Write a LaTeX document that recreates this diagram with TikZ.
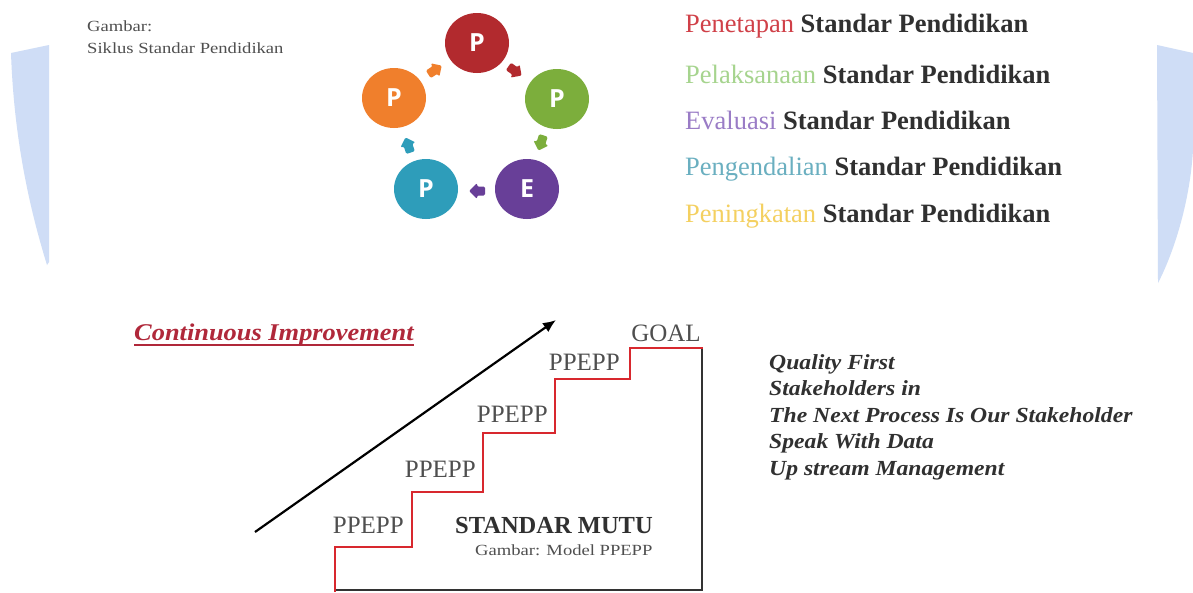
\documentclass[tikz,border=0pt]{standalone}
\usepackage{fontspec}
\setmainfont{Liberation Serif}
\newfontfamily\widefont[FakeStretch=1.2]{Liberation Serif}
\newfontfamily\bifont[FakeStretch=1.1]{Liberation Serif}
\newfontfamily\circfont{Open Sans}
\usetikzlibrary{shapes.geometric,arrows.meta}
\definecolor{bandblue}{HTML}{CFDDF6}
\definecolor{cred}{HTML}{B22A2E}
\definecolor{cgreen}{HTML}{7CAE3C}
\definecolor{cpurple}{HTML}{683F98}
\definecolor{cteal}{HTML}{2E9DBA}
\definecolor{corange}{HTML}{F07F2C}
\definecolor{lred}{HTML}{D04048}
\definecolor{lgreen}{HTML}{A6D48E}
\definecolor{lpurple}{HTML}{9A7CC6}
\definecolor{lteal}{HTML}{6AAFC0}
\definecolor{lyellow}{HTML}{F4D060}
\definecolor{txt}{HTML}{303030}
\definecolor{ured}{HTML}{B0283A}
\definecolor{stairred}{HTML}{D8282E}
\tikzset{
  pcirc/.style={ellipse, fill=#1, minimum width=64pt, minimum height=60pt, inner sep=0pt,
    text=white, font=\circfont\bfseries\fontsize{25}{25}\selectfont},
  blockarrow/.style={fill=#1, rounded corners=1.3pt},
  legend/.style={anchor=base west, text=txt, font=\fontsize{26.5}{30}\selectfont, inner sep=0pt},
  step label/.style={anchor=base east, text=txt!85, font=\fontsize{25}{30}\selectfont, inner sep=0pt},
  quality/.style={anchor=base west, text=txt, font=\bifont\bfseries\itshape\fontsize{21.5}{26}\selectfont, inner sep=0pt},
  small note/.style={anchor=base west, text=txt!85, font=\widefont\fontsize{15.5}{18}\selectfont, inner sep=0pt}
}
\newcommand{\arrowblob}{(-8,-4.5) -- (0,-4.5) -- (0,-8) -- (8,0) -- (0,8) -- (0,4.5) -- (-8,4.5) -- cycle}
\begin{document}
\begin{tikzpicture}[x=1pt,y=-1pt]
\useasboundingbox (0,0) rectangle (1193,592);
\fill[white] (0,0) rectangle (1193,592);

% side bands
\fill[bandblue] (11,53) -- (49,45) -- (49,262) -- (47,265)
  .. controls (30,210) and (14,140) .. cycle;
\fill[bandblue] (1157,45) -- (1193,53) -- (1193,150)
  .. controls (1190,200) and (1175,250) .. (1158,283) -- cycle;

% caption
\node[small note] (cap1) at (87,31) {Gambar:};
\node[small note] (cap2) at (87,53) {Siklus Standar Pendidikan};

% cycle circles
\node[pcirc=cred]    (c1) at (477,43)  {P};
\node[pcirc=cgreen]  (c2) at (557,99)  {P};
\node[pcirc=cpurple] (c3) at (527,189) {E};
\node[pcirc=cteal]   (c4) at (426,189) {P};
\node[pcirc=corange] (c5) at (394,98)  {P};
\fill[blockarrow=corange, shift={(435,70)}, rotate=33] \arrowblob;
\fill[blockarrow=cred, shift={(515,71)}, rotate=-35] \arrowblob;
\fill[blockarrow=cgreen, shift={(541,143)}, rotate=-108] \arrowblob;
\fill[blockarrow=cpurple, shift={(477,191)}, rotate=180] \arrowblob;
\fill[blockarrow=cteal, shift={(408,145)}, rotate=109] \arrowblob;

% legend
\node[legend] (l1) at (685,32)  {\textcolor{lred}{Penetapan} \textbf{Standar Pendidikan}};
\node[legend] (l2) at (685,83)  {\textcolor{lgreen}{Pelaksanaan} \textbf{Standar Pendidikan}};
\node[legend] (l3) at (685,129) {\textcolor{lpurple}{Evaluasi} \textbf{Standar Pendidikan}};
\node[legend] (l4) at (685,175) {\textcolor{lteal}{Pengendalian} \textbf{Standar Pendidikan}};
\node[legend] (l5) at (685,222) {\textcolor{lyellow}{Peningkatan} \textbf{Standar Pendidikan}};

% continuous improvement
\node[anchor=base west, inner sep=0pt, text=ured, font=\bifont\bfseries\itshape\fontsize{24}{28}\selectfont] (ci) at (134,340) {Continuous Improvement};
\draw[ured, line width=1.2pt] (ci.base west) ++(0,5) -- ([yshift=-5pt]ci.base east);

% rising arrow
\coordinate (arS) at (255,532);
\coordinate (arE) at (556,320);
\draw[line width=2.2pt, -{Latex[length=13pt,width=11pt]}] (arS) -- (arE);

% staircase box
\draw[black!80, line width=2.6pt] (702,348) -- (702,590) -- (335,590);
\draw[stairred, line width=2.6pt, line join=miter]
  (335,592) -- (335,547) -- (412,547) -- (412,492) -- (483,492) -- (483,433)
  -- (555,433) -- (555,379) -- (630,379) -- (630,348) -- (703,348);

\node[step label] (s1) at (404,533) {PPEPP};
\node[step label] (s2) at (476,477) {PPEPP};
\node[step label] (s3) at (548,422) {PPEPP};
\node[step label] (s4) at (620,370) {PPEPP};
\node[anchor=base, inner sep=0pt, text=txt!85, font=\fontsize{25}{30}\selectfont] (goal) at (666,341) {GOAL};

\node[anchor=base west, inner sep=0pt, text=txt, font=\bfseries\fontsize{24.5}{30}\selectfont] (sm) at (455,533) {STANDAR MUTU};
\node[small note] (gm) at (475,555) {Gambar: Model PPEPP};

% principles
\node[quality] (q1) at (769,369) {Quality First};
\node[quality] (q2) at (769,395) {Stakeholders in};
\node[quality] (q3) at (769,422) {The Next Process Is Our Stakeholder};
\node[quality] (q4) at (769,448) {Speak With Data};
\node[quality] (q5) at (769,475) {Up stream Management};
\end{tikzpicture}
\end{document}
